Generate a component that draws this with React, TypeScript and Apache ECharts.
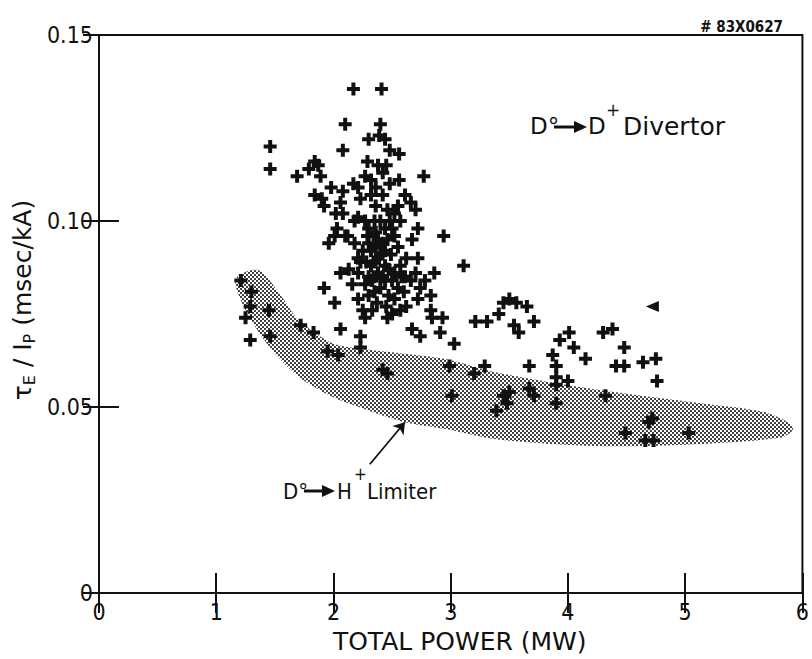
import { useEffect, useRef } from 'react';
import * as echarts from 'echarts';

// Axis tick labels
const xTickLabels = ['0', '1', '2', '3', '4', '5', '6'];
const yTickLabels = ['0', '0.05', '0.10', '0.15'];

// D0 -> D+ divertor shots: [total power (MW), tauE/Ip (msec/kA)]
const lowPowerShots: [number, number][] = [
  [1.21, 0.084], [1.30, 0.081], [1.29, 0.077], [1.45, 0.076], [1.25, 0.074], [1.29, 0.068],
  [1.46, 0.069], [1.72, 0.072], [1.83, 0.070], [1.95, 0.065], [2.04, 0.064], [2.06, 0.071],
  [2.23, 0.069], [2.23, 0.066], [2.42, 0.060], [2.46, 0.059], [1.92, 0.082], [2.01, 0.078],
  [2.27, 0.074], [2.46, 0.074],
];

const upperLeftShots: [number, number][] = [
  [1.46, 0.120], [1.46, 0.114], [1.69, 0.112], [1.79, 0.114], [1.84, 0.116], [1.87, 0.115],
  [1.89, 0.112], [1.98, 0.109], [2.10, 0.126], [2.08, 0.119], [1.84, 0.107], [1.90, 0.106],
  [1.92, 0.104], [2.08, 0.108], [2.06, 0.105], [2.02, 0.102], [2.08, 0.102], [2.03, 0.098],
  [1.96, 0.094], [2.10, 0.096], [2.06, 0.086], [2.01, 0.096],
];

const mainClusterShots: [number, number][] = [
  [2.17, 0.1355], [2.41, 0.1355], [2.40, 0.126], [2.30, 0.122], [2.39, 0.123], [2.44, 0.122],
  [2.48, 0.119], [2.56, 0.118], [2.29, 0.116], [2.38, 0.115], [2.42, 0.113], [2.27, 0.112],
  [2.32, 0.111], [2.17, 0.110], [2.21, 0.109], [2.56, 0.111], [2.77, 0.112], [2.23, 0.106],
  [2.32, 0.107], [2.42, 0.107], [2.61, 0.107], [2.66, 0.105], [2.70, 0.103], [2.55, 0.104],
  [2.52, 0.102], [2.57, 0.100], [2.21, 0.101], [2.18, 0.100], [2.27, 0.100], [2.35, 0.100],
  [2.44, 0.098], [2.50, 0.098], [2.72, 0.098], [2.12, 0.096], [2.18, 0.094], [2.29, 0.096],
  [2.38, 0.095], [2.52, 0.096], [2.67, 0.095], [2.94, 0.096], [2.25, 0.092], [2.32, 0.092],
  [2.44, 0.092], [2.55, 0.093], [2.72, 0.090], [2.23, 0.089], [2.35, 0.089], [2.44, 0.088],
  [2.57, 0.088], [2.21, 0.086], [2.38, 0.086], [2.52, 0.086], [2.70, 0.086], [2.86, 0.086],
  [2.21, 0.090], [2.32, 0.088], [2.44, 0.084], [2.27, 0.083], [2.21, 0.079], [2.35, 0.081],
  [2.55, 0.082], [2.66, 0.084], [2.72, 0.079], [2.83, 0.080], [2.83, 0.076], [2.93, 0.074],
  [2.67, 0.071], [2.74, 0.069], [2.91, 0.070], [2.30, 0.098], [2.36, 0.093], [2.40, 0.091],
  [2.46, 0.095], [2.33, 0.084], [2.40, 0.082], [2.47, 0.080], [2.30, 0.080], [2.37, 0.078],
  [2.45, 0.077], [2.52, 0.079], [2.60, 0.081], [2.62, 0.077], [2.25, 0.076], [2.33, 0.076],
  [2.50, 0.075], [2.57, 0.076], [2.74, 0.082], [2.78, 0.084], [2.13, 0.087], [2.16, 0.083],
  [2.61, 0.085], [2.84, 0.074], [2.36, 0.104], [2.46, 0.103], [2.40, 0.100], [2.48, 0.100],
  [2.36, 0.097], [2.42, 0.094], [2.49, 0.091], [2.38, 0.090], [2.30, 0.094], [2.28, 0.089],
  [2.47, 0.087], [2.42, 0.085], [2.35, 0.085], [2.30, 0.085], [2.50, 0.084], [2.58, 0.085],
  [2.62, 0.090], [2.48, 0.110], [2.36, 0.109], [2.45, 0.115],
];

const highPowerShots: [number, number][] = [
  [3.11, 0.088], [3.03, 0.067], [3.21, 0.073], [3.31, 0.073], [3.41, 0.075], [3.45, 0.078],
  [3.50, 0.079], [3.56, 0.078], [3.65, 0.077], [3.54, 0.072], [3.58, 0.070], [3.71, 0.073],
  [3.93, 0.068], [4.01, 0.070], [4.05, 0.066], [4.15, 0.063], [3.87, 0.064], [3.90, 0.061],
  [3.90, 0.058], [3.90, 0.056], [4.00, 0.057], [3.90, 0.051], [3.67, 0.061], [4.30, 0.070],
  [4.38, 0.071], [4.48, 0.066], [4.41, 0.061], [4.48, 0.061], [4.64, 0.062], [4.75, 0.063],
  [4.76, 0.057], [2.99, 0.061], [3.20, 0.059], [3.29, 0.061], [3.01, 0.053], [3.45, 0.053],
  [3.50, 0.054], [3.48, 0.051], [3.39, 0.049], [3.67, 0.055], [3.71, 0.053], [4.32, 0.053],
  [4.49, 0.043], [4.69, 0.046], [4.72, 0.047], [4.66, 0.041], [4.73, 0.041], [5.03, 0.043],
];

// Single shot drawn with a left-pointing marker
const flaggedShots: [number, number][] = [[4.72, 0.077]];

// D0 -> H+ limiter band: upper edge left to right, then lower edge right to left
const limiterUpper: [number, number][] = [
  [1.18, 0.0850], [1.36, 0.0868], [1.55, 0.0800], [1.70, 0.0735], [1.98, 0.0673],
  [2.27, 0.0655], [2.55, 0.0645], [2.97, 0.0628], [3.39, 0.0593], [4.24, 0.0547],
  [5.08, 0.0512], [5.65, 0.0488], [5.87, 0.0460], [5.92, 0.0440],
];
const limiterLower: [number, number][] = [
  [5.82, 0.0418], [5.08, 0.0400], [4.24, 0.0395], [3.39, 0.0413], [2.97, 0.0440],
  [2.61, 0.0459], [2.27, 0.0494], [1.98, 0.0529], [1.70, 0.0582], [1.47, 0.0655],
  [1.28, 0.0743], [1.17, 0.0820],
];

// Arrow pointing from the limiter caption into the band
const limiterArrow: [number, number][] = [[2.31, 0.0346], [2.61, 0.0459]];

const FONT = '"DejaVu Sans Condensed", "DejaVu Sans", sans-serif';
const WIDE_FONT = '"DejaVu Sans", sans-serif';
const INK = '#111';
const PLUS = 'path://M4.5,0h4v4.5h4.5v4h-4.5v4.5h-4v-4.5h-4.5v-4h4.5z';

// Halftone tile for the shaded band
function makeDotPattern(): HTMLCanvasElement {
  const c = document.createElement('canvas');
  c.width = 4;
  c.height = 4;
  const ctx = c.getContext('2d')!;
  ctx.fillStyle = '#111';
  ctx.beginPath();
  ctx.arc(1, 1, 1.02, 0, Math.PI * 2);
  ctx.arc(3, 3, 1.02, 0, Math.PI * 2);
  ctx.fill();
  return c;
}

export default function App() {
  const ref = useRef<HTMLDivElement>(null);

  useEffect(() => {
    if (!ref.current) return;
    const chart = echarts.init(ref.current, undefined, { renderer: 'svg' });
    const pattern = { image: makeDotPattern(), repeat: 'repeat', imageWidth: 4, imageHeight: 4 };
    const bandOutline = [...limiterUpper, ...limiterLower];

    const axisLine = { show: true, lineStyle: { color: INK, width: 2 } };
    const tick = (len: number) => ({ show: true, inside: true, length: len, lineStyle: { color: INK, width: 2 } });
    const labelStyle = { fontFamily: FONT, fontSize: 23, color: INK };

    const allShots = [...lowPowerShots, ...upperLeftShots, ...mainClusterShots, ...highPowerShots];

    chart.setOption({
      animation: false,
      backgroundColor: '#fff',
      grid: { left: 99, right: 4, top: 35, bottom: 65, show: true, borderColor: INK, borderWidth: 2 },
      xAxis: [
        {
          type: 'value', min: 0, max: 6, interval: 1, position: 'bottom',
          axisLine, axisTick: tick(20), splitLine: { show: false },
          axisLabel: { ...labelStyle, margin: 7, formatter: (_v: number, i: number) => xTickLabels[i] },
          name: 'TOTAL POWER (MW)', nameLocation: 'middle', nameGap: 36,
          nameTextStyle: { fontFamily: WIDE_FONT, fontSize: 25, color: INK, padding: [0, 0, 0, 18] },
        },
        {
          type: 'value', min: 0, max: 6, interval: 1, position: 'top',
          axisLine, axisTick: tick(20), splitLine: { show: false }, axisLabel: { show: false },
        },
      ],
      yAxis: [
        {
          type: 'value', min: 0, max: 0.15, interval: 0.05, position: 'left',
          axisLine, axisTick: tick(20), splitLine: { show: false },
          axisLabel: { ...labelStyle, margin: 6, formatter: (_v: number, i: number) => yTickLabels[i] },
        },
        {
          type: 'value', min: 0, max: 0.15, interval: 0.05, position: 'right',
          axisLine, axisTick: tick(16), splitLine: { show: false }, axisLabel: { show: false },
        },
      ],
      series: [
        {
          type: 'custom',
          silent: true,
          z: 1,
          data: [[0, 0]],
          renderItem: (_p: any, api: any) => ({
            type: 'polygon',
            shape: { points: bandOutline.map((pt) => api.coord(pt)), smooth: 0.3 },
            style: { fill: pattern, stroke: 'none' },
          }),
          markLine: {
            silent: true,
            symbol: ['none', 'arrow'],
            symbolSize: 11,
            label: { show: false },
            lineStyle: { color: INK, width: 1.8, type: 'solid' },
            data: [[{ coord: limiterArrow[0] }, { coord: limiterArrow[1] }]],
          },
        },
        {
          type: 'scatter',
          z: 3,
          symbol: PLUS,
          symbolSize: 13,
          itemStyle: { color: INK, opacity: 1 },
          data: allShots,
        },
        {
          type: 'scatter',
          z: 3,
          symbol: 'triangle',
          symbolRotate: 90,
          symbolSize: [11, 13],
          itemStyle: { color: INK, opacity: 1 },
          data: flaggedShots,
        },
      ],
      graphic: [
        {
          type: 'text', x: 783, y: 27,
          style: { text: '# 83X0627', font: `bold 15px ${FONT}`, fill: INK, align: 'right', verticalAlign: 'middle' },
        },
        // y-axis title with subscripts
        {
          type: 'text', x: 22, y: 300, rotation: Math.PI / 2,
          style: {
            text: '{b|τ}{s|E}{b| / I}{s|P}{b| (msec/kA)}',
            align: 'center', verticalAlign: 'middle', fill: INK,
            rich: {
              b: { fontFamily: WIDE_FONT, fontSize: 25, lineHeight: 30, verticalAlign: 'middle', fill: INK },
              s: { fontFamily: WIDE_FONT, fontSize: 16, lineHeight: 14, verticalAlign: 'bottom', fill: INK },
            },
          },
        },
        // D0 -> D+ Divertor
        { type: 'text', x: 530, y: 126, style: { text: 'D°', font: `23px ${WIDE_FONT}`, fill: INK, verticalAlign: 'middle' } },
        { type: 'line', shape: { x1: 554, y1: 127, x2: 576, y2: 127 }, style: { stroke: INK, lineWidth: 3 } },
        { type: 'polygon', shape: { points: [[574, 121], [587, 127], [574, 133]] }, style: { fill: INK } },
        { type: 'text', x: 588, y: 126, style: { text: 'D', font: `23px ${WIDE_FONT}`, fill: INK, verticalAlign: 'middle' } },
        { type: 'text', x: 606, y: 110, style: { text: '+', font: `17px ${WIDE_FONT}`, fill: INK, verticalAlign: 'middle' } },
        { type: 'text', x: 623, y: 126, style: { text: 'Divertor', font: `25px ${WIDE_FONT}`, fill: INK, verticalAlign: 'middle' } },
        // D0 -> H+ Limiter
        { type: 'text', x: 283, y: 491, style: { text: 'D°', font: `22px ${FONT}`, fill: INK, verticalAlign: 'middle' } },
        { type: 'line', shape: { x1: 304, y1: 491, x2: 324, y2: 491 }, style: { stroke: INK, lineWidth: 3 } },
        { type: 'polygon', shape: { points: [[322, 485], [335, 491], [322, 497]] }, style: { fill: INK } },
        { type: 'text', x: 337, y: 491, style: { text: 'H', font: `22px ${FONT}`, fill: INK, verticalAlign: 'middle' } },
        { type: 'text', x: 354, y: 474, style: { text: '+', font: `17px ${FONT}`, fill: INK, verticalAlign: 'middle' } },
        { type: 'text', x: 367, y: 491, style: { text: 'Limiter', font: `22px ${FONT}`, fill: INK, verticalAlign: 'middle' } },
      ],
    });

    return () => chart.dispose();
  }, []);

  return (
    <div
      ref={ref}
      style={{ position: 'fixed', left: 0, top: 0, width: 812, height: 659, background: '#fff' }}
    />
  );
}
